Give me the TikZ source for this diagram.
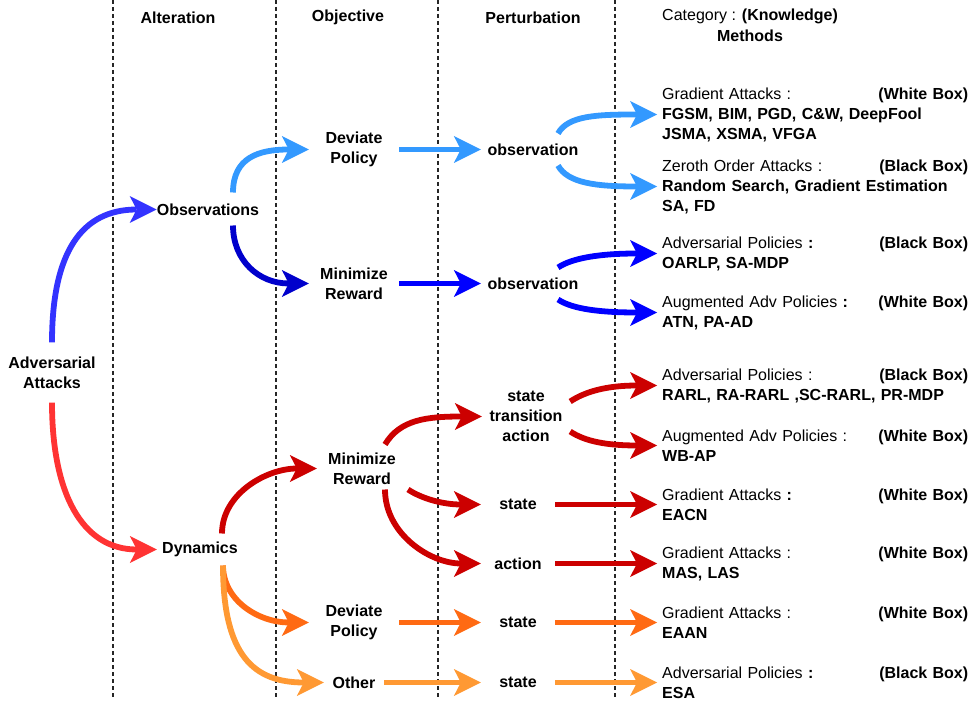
\documentclass[tikz,border=0pt]{standalone}
\usepackage{fontspec}
\setmainfont{Liberation Sans}
\usetikzlibrary{arrows.meta, positioning}

\definecolor{obsblue}{HTML}{3333FF}
\definecolor{lightblue}{HTML}{3399FF}
\definecolor{darkblue}{HTML}{0000CC}
\definecolor{pureblue}{HTML}{0000FF}
\definecolor{dynred}{HTML}{FF3333}
\definecolor{darkred}{HTML}{CC0000}
\definecolor{devorange}{HTML}{FF6A13}
\definecolor{lightorange}{HTML}{FF9933}

\begin{document}
\begin{tikzpicture}[x=1pt, y=1pt,
    every node/.style={font=\fontsize{16}{20}\selectfont},
    lbl/.style={font=\fontsize{16}{20}\selectfont\bfseries, align=center, inner sep=0pt},
    meth/.style={anchor=west, text width=306pt, inner xsep=5pt, inner ysep=0pt, align=left},
    flow/.style={line width=5.8pt, -{Stealth[length=27pt, width=27pt, inset=7pt, line width=0pt]}},
    sep/.style={dash pattern=on 4pt off 3pt, line width=1.2pt, black!85}]
    \useasboundingbox (0,1.5) rectangle (971,703.5);

    % Column separators
    \foreach \xs in {113, 276, 438, 615}
        \draw[sep] (\xs,703.5) -- (\xs,6.5);

    % Headers
    \node[lbl] (hAlt) at (178,686) {Alteration};
    \node[lbl] (hObj) at (348,686) {Objective};
    \node[lbl] (hPer) at (533,686) {Perturbation};
    \node[anchor=west, inner sep=0pt] (hCat) at (662,687) {Category : \textbf{(Knowledge)}};
    \node[lbl] (hMet) at (750,668) {Methods};

    % Attack, alteration and objective nodes
    \node[lbl, minimum height=60pt] (adv) at (52,331) {Adversarial\\Attacks};
    \node[lbl] (obs) at (208,494) {Observations};
    \node[lbl, minimum width=86pt] (dyn) at (200,154) {Dynamics};
    \node[lbl, minimum width=90pt] (devO) at (354,554) {Deviate\\Policy};
    \node[lbl, minimum width=90pt] (minO) at (354,420) {Minimize\\Reward};
    \node[lbl, minimum width=90pt] (minD) at (362,235) {Minimize\\Reward};
    \node[lbl, minimum width=90pt] (devD) at (354,81) {Deviate\\Policy};
    \node[lbl, minimum width=60pt] (oth) at (354,21) {Other};

    % Perturbation nodes
    \node[lbl, minimum width=104pt] (pObsA) at (533,554) {observation};
    \node[lbl, minimum width=104pt] (pObsB) at (533,420) {observation};
    \node[lbl, minimum width=88pt] (pSTA) at (526,287) {state\\transition\\action};
    \node[lbl, minimum width=74pt] (pStA) at (518,199) {state};
    \node[lbl, minimum width=74pt] (pAct) at (518,140) {action};
    \node[lbl, minimum width=74pt] (pStB) at (518,81) {state};
    \node[lbl, minimum width=74pt] (pStC) at (518,21) {state};

    % Methods
    \node[meth] (m1) at (657,589) {Gradient Attacks :\hfill\textbf{(White Box)}\\\textbf{FGSM, BIM, PGD, C\&W, DeepFool}\\\textbf{JSMA, XSMA, VFGA}};
    \node[meth] (m2) at (657,517) {Zeroth Order Attacks :\hfill\textbf{(Black Box)}\\\textbf{Random Search, Gradient Estimation}\\\textbf{SA, FD}};
    \node[meth] (m3) at (657,450) {Adversarial Policies \textbf{:}\hfill\textbf{(Black Box)}\\\textbf{OARLP, SA-MDP}};
    \node[meth] (m4) at (657,391) {Augmented Adv Policies \textbf{:}\hfill\textbf{(White Box)}\\\textbf{ATN, PA-AD}};
    \node[meth] (m5) at (657,318) {Adversarial Policies :\hfill\textbf{(Black Box)}\\\textbf{RARL, RA-RARL ,SC-RARL, PR-MDP}};
    \node[meth] (m6) at (657,258) {Augmented Adv Policies :\hfill\textbf{(White Box)}\\\textbf{WB-AP}};
    \node[meth] (m7) at (657,199) {Gradient Attacks \textbf{:}\hfill\textbf{(White Box)}\\\textbf{EACN}};
    \node[meth] (m8) at (657,140) {Gradient Attacks :\hfill\textbf{(White Box)}\\\textbf{MAS, LAS}};
    \node[meth] (m9) at (657,81) {Gradient Attacks :\hfill\textbf{(White Box)}\\\textbf{EAAN}};
    \node[meth] (m10) at (657,21) {Adversarial Policies \textbf{:}\hfill\textbf{(Black Box)}\\\textbf{ESA}};

    % Alteration arrows
    \draw[flow, obsblue] (adv.north) .. controls +(0,90) and +(-75,0) .. (obs.west);
    \draw[flow, dynred] (adv.south) .. controls +(0,-90) and +(-75,0) .. (dyn.west);

    % Objective arrows
    \draw[flow, lightblue] ([shift={(25,17)}]obs.center) .. controls +(0,35) and +(-50,0) .. (devO.west);
    \draw[flow, darkblue] ([shift={(25,-16)}]obs.center) .. controls +(0,-35) and +(-50,0) .. (minO.west);
    \draw[flow, darkred] ([shift={(22,16)}]dyn.center) .. controls +(0,40) and +(-50,0) .. (minD.west);
    \draw[flow, devorange] ([shift={(23,-16)}]dyn.center) .. controls +(0,-35) and +(-50,0) .. (devD.west);
    \draw[flow, lightorange] ([shift={(23,-16)}]dyn.center) .. controls +(0,-90) and +(-70,0) .. (oth.west);

    % Perturbation arrows
    \draw[flow, lightblue] (devO.east) -- (pObsA.west);
    \draw[flow, pureblue] (minO.east) -- (pObsB.west);
    \draw[flow, darkred] ([shift={(23,24)}]minD.center) .. controls +(15,25) and +(-55,0) .. (pSTA.west);
    \draw[flow, darkred] ([shift={(46,-21)}]minD.center) .. controls +(12,-8) and +(-40,0) .. (pStA.west);
    \draw[flow, darkred] ([shift={(23,-21)}]minD.center) .. controls +(0,-45) and +(-50,0) .. (pAct.west);
    \draw[flow, devorange] (devD.east) -- (pStB.west);
    \draw[flow, lightorange] (oth.east) -- (pStC.west);

    % Method arrows
    \draw[flow, lightblue] ([shift={(25,16)}]pObsA.center) .. controls +(10,18) and +(-60,0) .. (m1.west);
    \draw[flow, lightblue] ([shift={(25,-16)}]pObsA.center) .. controls +(10,-18) and +(-60,0) .. (m2.west);
    \draw[flow, pureblue] ([shift={(25,16)}]pObsB.center) .. controls +(15,10) and +(-55,0) .. (m3.west);
    \draw[flow, pureblue] ([shift={(25,-16)}]pObsB.center) .. controls +(15,-10) and +(-55,0) .. (m4.west);
    \draw[flow, darkred] ([yshift=15pt]pSTA.east) .. controls +(15,10) and +(-50,0) .. (m5.west);
    \draw[flow, darkred] ([yshift=-15pt]pSTA.east) .. controls +(15,-10) and +(-50,0) .. (m6.west);
    \draw[flow, darkred] (pStA.east) -- (m7.west);
    \draw[flow, darkred] (pAct.east) -- (m8.west);
    \draw[flow, devorange] (pStB.east) -- (m9.west);
    \draw[flow, lightorange] (pStC.east) -- (m10.west);
\end{tikzpicture}
\end{document}
